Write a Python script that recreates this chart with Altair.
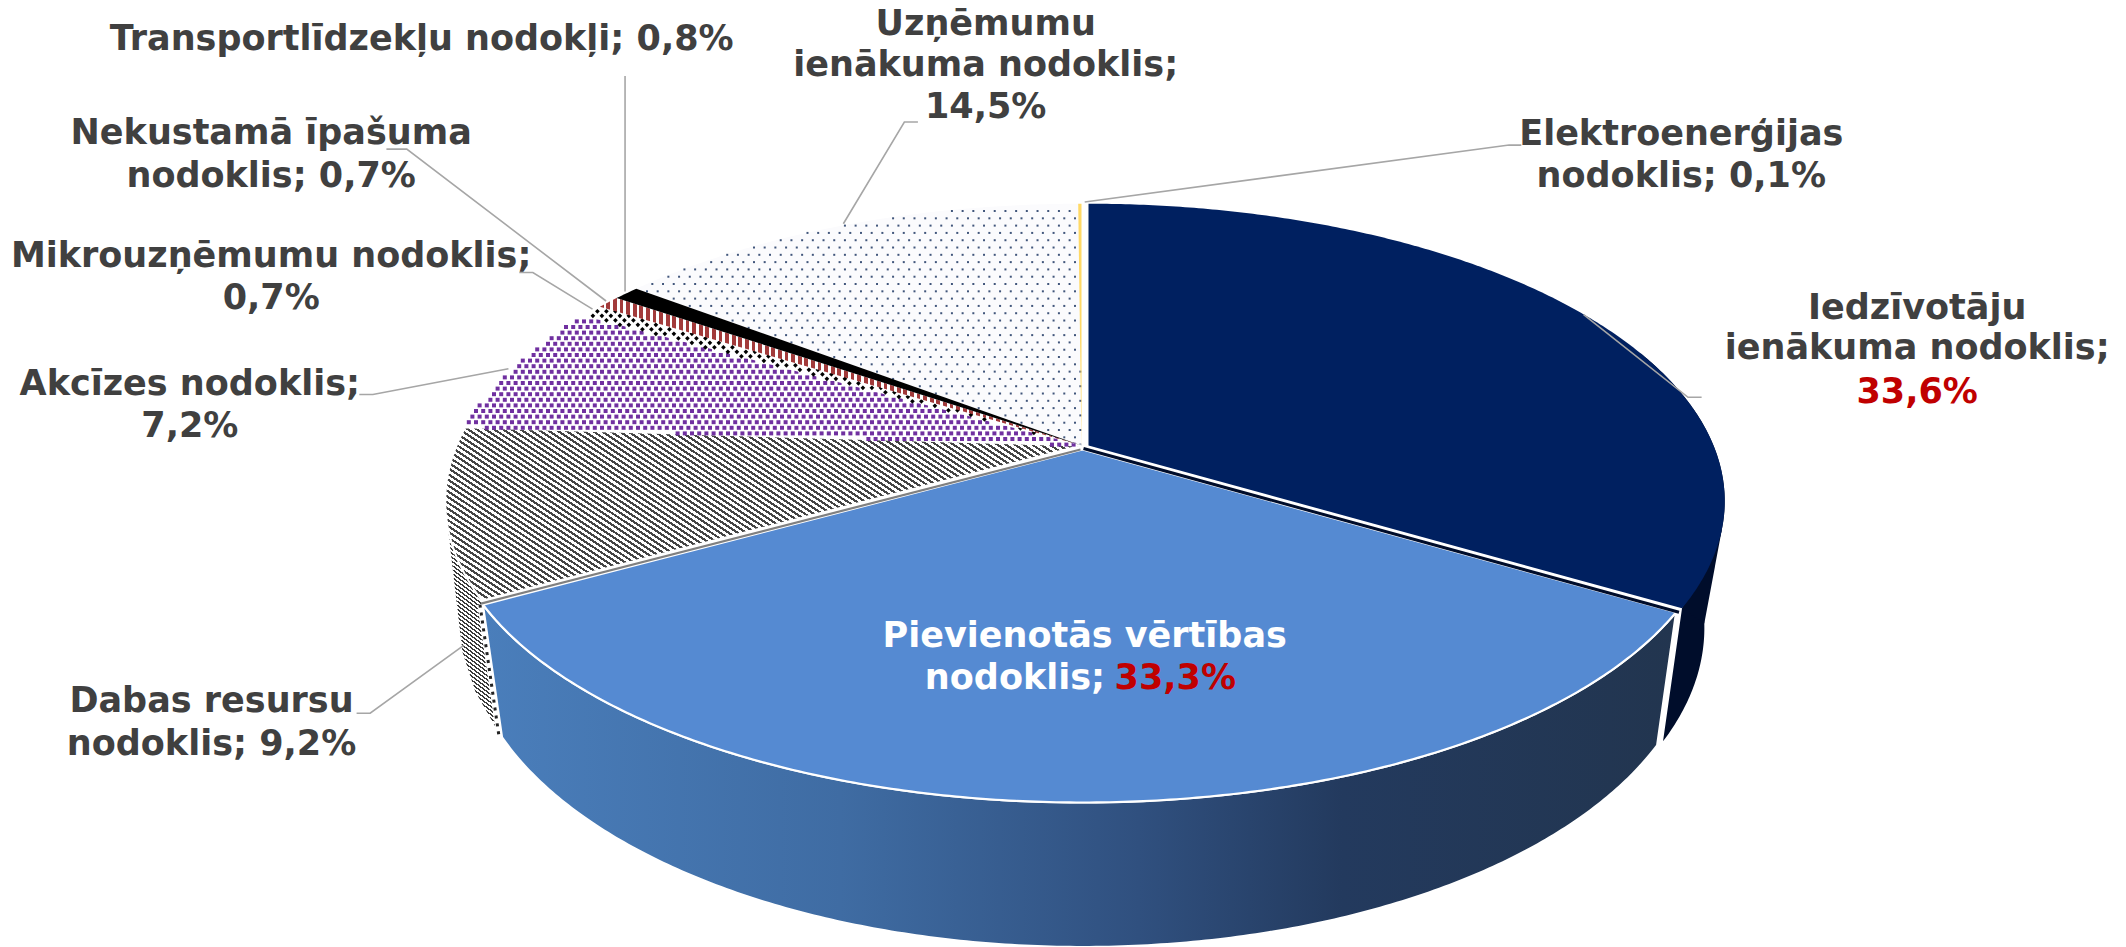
import math
import altair as alt
import pandas as pd

# ---- chart values ----
categories = ["Iedzīvotāju ienākuma nodoklis", "Pievienotās vērtības nodoklis", "Dabas resursu nodoklis",
              "Akcīzes nodoklis", "Mikrouzņēmumu nodoklis", "Nekustamā īpašuma nodoklis",
              "Transportlīdzekļu nodokļi", "Uzņēmumu ienākuma nodoklis", "Elektroenerģijas nodoklis"]
shares = [33.6, 33.3, 9.2, 7.2, 0.7, 0.7, 0.8, 14.5, 0.1]

# ---- text ----
center_lines = ["Elektroenerģijas", "nodoklis; 0,1%", "Iedzīvotāju", "ienākuma nodoklis;", "33,6%",
                "Uzņēmumu", "ienākuma nodoklis;", "14,5%", "Transportlīdzekļu nodokļi; 0,8%",
                "Nekustamā īpašuma", "nodoklis; 0,7%", "Mikrouzņēmumu nodoklis;", "0,7%",
                "Akcīzes nodoklis;", "7,2%", "Dabas resursu", "nodoklis; 9,2%", "Pievienotās vērtības"]
center_colors = ["#404040"] * 4 + ["#c00000"] + ["#404040"] * 12 + ["#ffffff"]
center_x = [1240, 1240, 1414, 1414, 1414, 727, 727, 727, 311, 200, 200, 200, 200, 140, 140, 156, 156, 800]
center_y = [99, 130, 227, 257, 289, 18, 48, 79, 29, 98, 130, 189, 220, 283, 314, 517, 549, 469]
SCALE = 2126 / 1568

# ---- geometry style ----
CX, CY, RX, SY, P = 1082.5, 447.5, 625.0, 287.0, 0.187
BRX, BCY, BSY = 605.0, 571.0, 304.0
offsets = [(6, -2), (0, 2), (-1, -2), (-1, -2), (-1, -2), (-1, -2), (-1, -2), (-1, -2), (-1, -2)]

total = sum(shares)
edges = [0.0]
for s in shares:
    edges.append(edges[-1] + s / total * 360)


def top(a, off=(0, 0)):
    u, v = math.sin(math.radians(a)), -math.cos(math.radians(a))
    w = 1 - P * v
    return CX + RX * u / w + off[0], CY + SY * v / w + off[1]


def bottom(a, off=(0, 0)):
    u, v = math.sin(math.radians(a)), -math.cos(math.radians(a))
    w = 1 - P * v
    return CX + BRX * u / w + off[0], BCY + BSY * v / w + off[1]


def arc(a0, a1, fn, off):
    n = max(2, int(abs(a1 - a0) * 2))
    return [fn(a0 + (a1 - a0) * i / n, off) for i in range(n + 1)]


def wedge_pts(k):
    off = offsets[k]
    apex = (CX + off[0], CY + off[1])
    return [apex] + arc(edges[k], edges[k + 1], top, off) + [apex]


def wall_pts(a0, a1, off):
    pts = arc(a0, a1, top, off) + arc(a1, a0, bottom, off)
    return pts + [pts[0]]


def bbox(pts):
    xs = [p[0] for p in pts]
    ys = [p[1] for p in pts]
    return min(xs), min(ys), max(xs), max(ys)


def hatch(pts, nx, ny, period, c1, c2, duty):
    x0, y0, x1, y1 = bbox(pts)
    W, H = x1 - x0, y1 - y0
    corners = [(0, 0), (1, 0), (0, 1), (1, 1)]
    fs = [nx * a * W + ny * b * H for a, b in corners]
    fmin, fmax = min(fs), max(fs)
    start = corners[fs.index(fmin)]
    gx, gy = nx * W, ny * H
    k = (fmax - fmin) / (gx * gx + gy * gy)
    stops = []
    n = int((fmax - fmin) / period) + 1
    for i in range(n):
        a = i * period / (fmax - fmin)
        b = (i + duty) * period / (fmax - fmin)
        c = (i + 1) * period / (fmax - fmin)
        if c > 1:
            break
        stops += [{"offset": a, "color": c1}, {"offset": b, "color": c1},
                  {"offset": b, "color": c2}, {"offset": c, "color": c2}]
    return alt.LinearGradient(gradient="linear", stops=stops, x1=start[0], y1=start[1],
                              x2=start[0] + k * gx, y2=start[1] + k * gy)


XS = alt.Scale(domain=[8, 2118], nice=False, zero=False)
YS = alt.Scale(domain=[947, 8], nice=False, zero=False)


def poly(pts, fill, stroke=None, sw=0.0):
    df = pd.DataFrame({"x": [p[0] for p in pts], "y": [p[1] for p in pts], "i": range(len(pts))})
    kw = {"strokeWidth": sw, "stroke": stroke if stroke else "transparent"}
    return alt.Chart(df).mark_line(fill=fill, **kw).encode(
        x=alt.X("x:Q", scale=XS, axis=None), y=alt.Y("y:Q", scale=YS, axis=None), order="i:Q")


def line(pts, color, sw=1.6, dash=None):
    df = pd.DataFrame({"x": [p[0] for p in pts], "y": [p[1] for p in pts], "i": range(len(pts))})
    kw = {"strokeDash": dash} if dash else {}
    return alt.Chart(df).mark_line(color=color, strokeWidth=sw, **kw).encode(
        x=alt.X("x:Q", scale=XS, axis=None), y=alt.Y("y:Q", scale=YS, axis=None), order="i:Q")


def inside(x, y, pts):
    c = False
    for (x1, y1), (x2, y2) in zip(pts, pts[1:]):
        if (y1 > y) != (y2 > y) and x < (x2 - x1) * (y - y1) / (y2 - y1) + x1:
            c = not c
    return c


def dots(pts, dx, dy, color, size, shape="square", opacity=1.0):
    x0, y0, x1, y1 = bbox(pts)
    r = 0
    y = y0
    xs, ys = [], []
    while y < y1:
        x = x0 + (dx / 2 if r % 2 else 0)
        while x < x1:
            if inside(x, y, pts):
                xs.append(x)
                ys.append(y)
            x += dx
        y += dy
        r += 1
    df = pd.DataFrame({"x": xs, "y": ys})
    return alt.Chart(df).mark_point(filled=True, shape=shape, size=size, color=color, opacity=opacity,
                                    strokeWidth=0).encode(
        x=alt.X("x:Q", scale=XS, axis=None), y=alt.Y("y:Q", scale=YS, axis=None))


layers = []

# outer walls (drawn first, the top faces cover what they should)
layers.append(poly(wall_pts(70, edges[1], offsets[0]), "#000d2b"))
layers.append(poly([top(106, offsets[0]), bottom(100, offsets[0]), top(edges[1], offsets[0])], "#000d2b"))
o2 = offsets[2]
shift = lambda p, dx, dy=0: (p[0] + dx, p[1] + dy)
dabas_wall = [top(254, o2), shift(bottom(255, o2), -5), shift(bottom(248, o2), -3),
              shift(bottom(edges[2], o2), -1, 2), top(edges[2], o2), top(254, o2)]
layers.append(poly(dabas_wall, hatch(dabas_wall, 0.6, -0.8, 3.2, "#3a3a3a", "#ffffff", 0.45)))
pvn_wall = wall_pts(edges[1], edges[2], offsets[1])
layers.append(poly(pvn_wall, alt.LinearGradient(
    gradient="linear", x1=0, x2=1, y1=0, y2=0,
    stops=[{"offset": 0, "color": "#4a7ebb"}, {"offset": 0.3, "color": "#3f6ca3"},
           {"offset": 0.55, "color": "#30507f"}, {"offset": 0.72, "color": "#233a5e"},
           {"offset": 1, "color": "#22354f"}]), "#ffffff", 2.0))

# slit of the wedge behind at the left seam, dotted
seam = edges[2]
layers.append(line([top(seam, (-3, 2)), bottom(seam, (-3, 2))], "#ffffff", 5))
layers.append(line([top(seam, (-3, 2)), bottom(seam, (-3, 2))], "#222222", 3, [3, 5]))

# top faces
w_uz = wedge_pts(7)
layers.append(poly(w_uz, "#fbfbfd"))
layers.append(dots(w_uz, 10.7, 7.3, "#203864", 4, opacity=0.85))
layers.append(poly(wedge_pts(8), "#ffd966"))
w_dab = wedge_pts(2)
layers.append(poly(w_dab, hatch(w_dab, 0.55, -0.83, 4.8, "#444444", "#ffffff", 0.45), "#ffffff", 2.0))
w_akc = wedge_pts(3)
layers.append(poly(w_akc, "#ffffff"))
layers.append(dots(w_akc, 7.2, 5.6, "#7030a0", 16))
w_mik = wedge_pts(4)
layers.append(poly(w_mik, "#ffffff"))
layers.append(dots(w_mik, 9, 4.5, "#000000", 22, shape="diamond"))
w_nek = wedge_pts(5)
layers.append(poly(w_nek, hatch(w_nek, 1, 0, 6.6, "#a23a3a", "#ffffff", 0.55)))
layers.append(poly(wedge_pts(6), "#000000"))
layers.append(poly(wedge_pts(0), "#002060"))
layers.append(poly(wedge_pts(1), "#558ad2", "#ffffff", 2.2))
# edge under the navy wedge and the seam between the nature-tax and VAT wedges
layers.append(line([(CX + 1, CY + 1), top(edges[1], (3, 2))], "#000d2b", 3))
layers.append(line([(CX - 2, CY + 2), top(edges[2], (-2, 1))], "#808080", 2.2))

# leader lines (in the shrunk reference's coordinates)
leaders = [
    [(800, 149), (1113, 107), (1122, 107)],
    [(1168, 232), (1245, 293), (1255, 293)],
    [(622, 165), (667, 90), (677, 90)],
    [(461, 215), (461, 56)],
    [(447, 222), (300, 110), (285, 110)],
    [(437, 228), (393, 201), (383, 201)],
    [(375, 272), (275, 291), (265, 291)],
    [(342, 476), (273, 526), (263, 526)],
]
for l in leaders:
    layers.append(line([(a * SCALE, b * SCALE) for a, b in l], "#a6a6a6", 1.6))

FONT = dict(font="DejaVu Sans", fontWeight="bold", fontSize=35)
text_df = pd.DataFrame({"x": [v * SCALE for v in center_x], "y": [v * SCALE for v in center_y],
                        "t": center_lines, "c": center_colors})
layers.append(alt.Chart(text_df).mark_text(baseline="middle", align="center", **FONT).encode(
    x=alt.X("x:Q", scale=XS, axis=None), y=alt.Y("y:Q", scale=YS, axis=None), text="t:N",
    color=alt.Color("c:N", scale=None)))
layers.append(alt.Chart(pd.DataFrame({"x": [815 * SCALE], "y": [500 * SCALE], "t": ["nodoklis;"]})).mark_text(
    baseline="middle", align="right", color="#ffffff", **FONT).encode(
    x=alt.X("x:Q", scale=XS, axis=None), y=alt.Y("y:Q", scale=YS, axis=None), text="t:N"))
layers.append(alt.Chart(pd.DataFrame({"x": [822 * SCALE], "y": [500 * SCALE], "t": ["33,3%"]})).mark_text(
    baseline="middle", align="left", color="#c00000", **FONT).encode(
    x=alt.X("x:Q", scale=XS, axis=None), y=alt.Y("y:Q", scale=YS, axis=None), text="t:N"))

chart = alt.layer(*layers).properties(
    width=2110, height=939, padding=0, autosize=alt.AutoSizeParams(type="none"), background="#ffffff"
).configure_view(stroke=None)
chart.save("out.html", embed_options={"renderer": "svg", "actions": False})
